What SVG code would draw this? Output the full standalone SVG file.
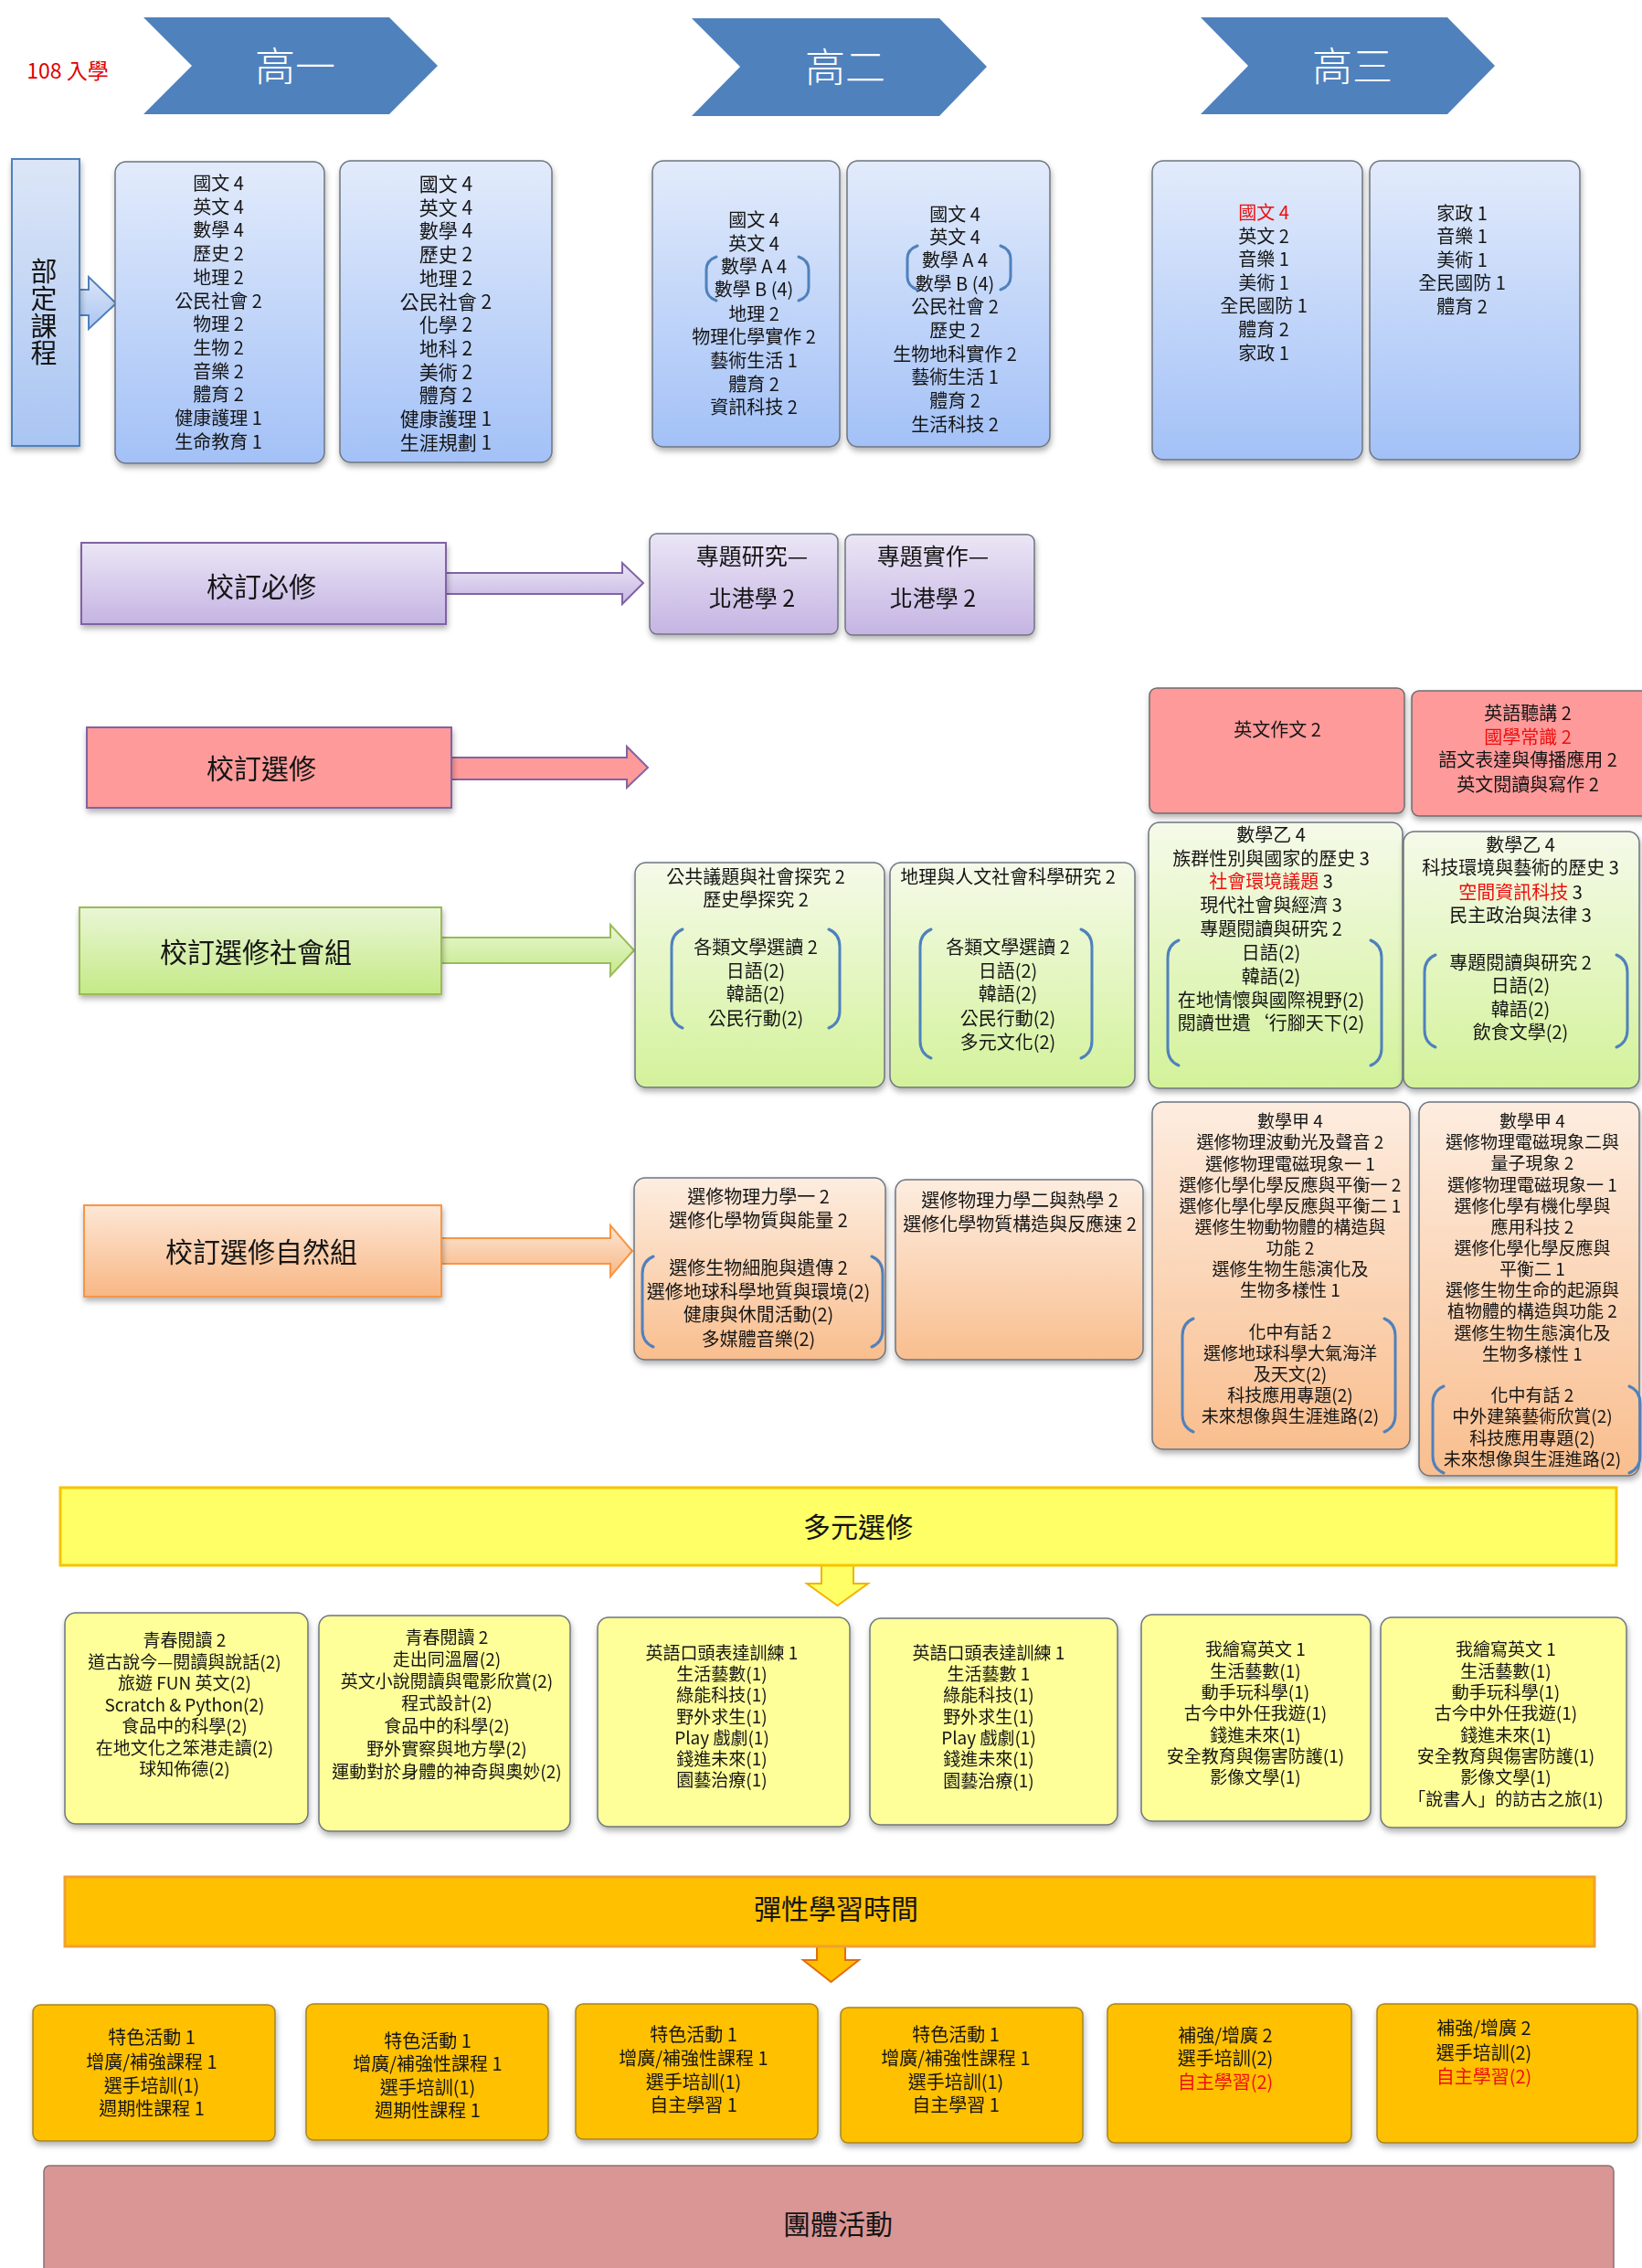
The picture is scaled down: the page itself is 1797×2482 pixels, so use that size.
<svg xmlns="http://www.w3.org/2000/svg" width="1797" height="2482" viewBox="0 0 1797 2482">
<defs>
<style>
.t{font-family:"Noto Sans CJK TC","Noto Sans CJK SC",sans-serif;font-size:20px;fill:#141414;text-anchor:middle;dominant-baseline:central;}
.t19{font-size:19px;}
.t21{font-size:21px;}
.lbl{font-size:30px;}
.sub{font-size:25px;}
.hd{font-size:44px;fill:#fff;font-weight:300;}
.red{fill:#EE1111;}
.box{stroke:#6E7680;stroke-width:1.5;}
.br{fill:none;stroke:#4F81BD;stroke-width:3;stroke-linecap:round;}
</style>
<linearGradient id="blueG" x1="0" y1="0" x2="0" y2="1"><stop offset="0" stop-color="#E2EBFB"/><stop offset="1" stop-color="#A3C1F7"/></linearGradient>
<linearGradient id="bdG" x1="0" y1="0" x2="0" y2="1"><stop offset="0" stop-color="#DCE6F7"/><stop offset="1" stop-color="#A9C5F3"/></linearGradient>
<linearGradient id="purpG" x1="0" y1="0" x2="0" y2="1"><stop offset="0" stop-color="#EBE6F6"/><stop offset="1" stop-color="#C5B4E3"/></linearGradient>
<linearGradient id="greenG" x1="0" y1="0" x2="0" y2="1"><stop offset="0" stop-color="#F5FAE9"/><stop offset="1" stop-color="#D3F29A"/></linearGradient>
<linearGradient id="lgG" x1="0" y1="0" x2="0" y2="1"><stop offset="0" stop-color="#EAF6D6"/><stop offset="1" stop-color="#C4EA86"/></linearGradient>
<linearGradient id="orG" x1="0" y1="0" x2="0" y2="1"><stop offset="0" stop-color="#FDEDE0"/><stop offset="1" stop-color="#F9BE8E"/></linearGradient>
<linearGradient id="loG" x1="0" y1="0" x2="0" y2="1"><stop offset="0" stop-color="#FDE7D6"/><stop offset="1" stop-color="#F8B784"/></linearGradient>
<filter id="sh" x="-10%" y="-10%" width="120%" height="130%"><feDropShadow dx="1" dy="4" stdDeviation="3" flood-color="#000" flood-opacity="0.3"/></filter>
</defs>
<rect width="1797" height="2482" fill="#fff"/>

<g id="header">
<text class="t" x="74" y="76" style="font-size:23px;fill:#E00000">108 入學</text>
<g id="g1"><polygon points="157,19 426,19 479,72 426,125 157,125 210,72" fill="#4F81BD"/><text class="t hd" x="323" y="70">高一</text></g>
<g id="g2"><polygon points="757,20 1028,20 1080,73 1028,127 757,127 810,73" fill="#4F81BD"/><text class="t hd" x="925" y="71">高二</text></g>
<g id="g3"><polygon points="1314,19 1584,19 1636,72 1584,125 1314,125 1366,72" fill="#4F81BD"/><text class="t hd" x="1480" y="70">高三</text></g>
</g>

<g id="connectors">
<polygon points="87,317 97,317 97,303 127,332 97,360 97,345 87,345" fill="url(#bdG)" stroke="#4F81BD" stroke-width="2"/>
<polygon points="488,627 681,627 681,616 704,638 681,661 681,650 488,650" fill="url(#purpG)" stroke="#8064A2" stroke-width="2"/>
<polygon points="494,829 686,829 686,817 709,840 686,862 686,853 494,853" fill="#FF9A9A" stroke="#8064A2" stroke-width="2"/>
<polygon points="483,1026 668,1026 668,1012 694,1040 668,1068 668,1054 483,1054" fill="url(#lgG)" stroke="#9BBB59" stroke-width="2"/>
<polygon points="483,1355 668,1355 668,1341 692,1369 668,1397 668,1383 483,1383" fill="url(#loG)" stroke="#F79646" stroke-width="2"/>
<polygon points="899,1713 934,1713 934,1733 950,1733 916.5,1757 883,1733 899,1733" fill="#FFFF66" stroke="#F0B400" stroke-width="2"/>
<polygon points="894,2130 925,2130 925,2145 940,2145 909.5,2169 879,2145 894,2145" fill="#FFC000" stroke="#E46C0A" stroke-width="2"/>
</g>

<g id="n_buding" filter="url(#sh)">
<rect x="13" y="174" width="74" height="314" fill="url(#bdG)" stroke="#4F81BD" stroke-width="2"/>
<text x="48" y="342" style="font-family:'Noto Sans CJK TC','Noto Sans CJK SC',sans-serif;font-size:29px;fill:#141414;writing-mode:vertical-rl;text-anchor:middle;letter-spacing:0.7px">部定課程</text>
</g>

<g id="n_b1" filter="url(#sh)">
<rect class="box" x="126" y="177" width="229" height="330" rx="12" fill="url(#blueG)"/>
<text class="t"><tspan x="239" y="199">國文 4</tspan><tspan x="239" y="224.7">英文 4</tspan><tspan x="239" y="250.4">數學 4</tspan><tspan x="239" y="276.1">歷史 2</tspan><tspan x="239" y="301.8">地理 2</tspan><tspan x="239" y="327.5">公民社會 2</tspan><tspan x="239" y="353.2">物理 2</tspan><tspan x="239" y="378.9">生物 2</tspan><tspan x="239" y="404.6">音樂 2</tspan><tspan x="239" y="430.3">體育 2</tspan><tspan x="239" y="456">健康護理 1</tspan><tspan x="239" y="481.7">生命教育 1</tspan></text>
</g>
<g id="n_b2" filter="url(#sh)">
<rect class="box" x="372" y="176" width="232" height="330" rx="12" fill="url(#blueG)"/>
<text class="t t21"><tspan x="488" y="200">國文 4</tspan><tspan x="488" y="225.7">英文 4</tspan><tspan x="488" y="251.4">數學 4</tspan><tspan x="488" y="277.1">歷史 2</tspan><tspan x="488" y="302.8">地理 2</tspan><tspan x="488" y="328.5">公民社會 2</tspan><tspan x="488" y="354.2">化學 2</tspan><tspan x="488" y="379.9">地科 2</tspan><tspan x="488" y="405.6">美術 2</tspan><tspan x="488" y="431.3">體育 2</tspan><tspan x="488" y="457">健康護理 1</tspan><tspan x="488" y="482.7">生涯規劃 1</tspan></text>
</g>
<g id="n_b3" filter="url(#sh)">
<rect class="box" x="714" y="176" width="205" height="313" rx="12" fill="url(#blueG)"/>
<text class="t"><tspan x="825" y="239">國文 4</tspan><tspan x="825" y="265">英文 4</tspan><tspan x="825" y="290">數學 A 4</tspan><tspan x="825" y="315">數學 B (4)</tspan><tspan x="825" y="342">地理 2</tspan><tspan x="825" y="367">物理化學實作 2</tspan><tspan x="825" y="393">藝術生活 1</tspan><tspan x="825" y="419">體育 2</tspan><tspan x="825" y="444">資訊科技 2</tspan></text>
<path class="br" d="M784,281 Q773,285 773,295 L773,315 Q773,325 784,329 M874,281 Q885,285 885,295 L885,315 Q885,325 874,329"/>
</g>
<g id="n_b4" filter="url(#sh)">
<rect class="box" x="927" y="176" width="222" height="313" rx="12" fill="url(#blueG)"/>
<text class="t"><tspan x="1045" y="233">國文 4</tspan><tspan x="1045" y="258">英文 4</tspan><tspan x="1045" y="283">數學 A 4</tspan><tspan x="1045" y="309">數學 B (4)</tspan><tspan x="1045" y="334">公民社會 2</tspan><tspan x="1045" y="360">歷史 2</tspan><tspan x="1045" y="386">生物地科實作 2</tspan><tspan x="1045" y="411">藝術生活 1</tspan><tspan x="1045" y="437">體育 2</tspan><tspan x="1045" y="463">生活科技 2</tspan></text>
<path class="br" d="M1004,269 Q993,273 993,283 L993,303 Q993,313 1004,317 M1095,269 Q1106,273 1106,283 L1106,303 Q1106,313 1095,317"/>
</g>
<g id="n_b5" filter="url(#sh)">
<rect class="box" x="1261" y="176" width="230" height="327" rx="12" fill="url(#blueG)"/>
<text class="t"><tspan x="1383" y="231" class="red">國文 4</tspan><tspan x="1383" y="257">英文 2</tspan><tspan x="1383" y="282">音樂 1</tspan><tspan x="1383" y="308">美術 1</tspan><tspan x="1383" y="333">全民國防 1</tspan><tspan x="1383" y="359">體育 2</tspan><tspan x="1383" y="385">家政 1</tspan></text>
</g>
<g id="n_b6" filter="url(#sh)">
<rect class="box" x="1499" y="176" width="230" height="327" rx="12" fill="url(#blueG)"/>
<text class="t"><tspan x="1600" y="232">家政 1</tspan><tspan x="1600" y="257">音樂 1</tspan><tspan x="1600" y="283">美術 1</tspan><tspan x="1600" y="308">全民國防 1</tspan><tspan x="1600" y="334">體育 2</tspan></text>
</g>

<g id="n_bixiu" filter="url(#sh)">
<rect x="89" y="594" width="399" height="89" fill="url(#purpG)" stroke="#8064A2" stroke-width="2"/>
<text class="t lbl" x="286" y="640">校訂必修</text>
</g>
<g id="n_zt1" filter="url(#sh)">
<rect x="711" y="584" width="206" height="110" rx="8" fill="url(#purpG)" stroke="#6E7680" stroke-width="1.5"/>
<text class="t sub"><tspan x="823" y="607">專題研究—</tspan><tspan x="823" y="653">北港學 2</tspan></text>
</g>
<g id="n_zt2" filter="url(#sh)">
<rect x="925" y="585" width="207" height="110" rx="8" fill="url(#purpG)" stroke="#6E7680" stroke-width="1.5"/>
<text class="t sub"><tspan x="1021" y="607">專題實作—</tspan><tspan x="1021" y="653">北港學 2</tspan></text>
</g>

<g id="n_xuanxiu" filter="url(#sh)">
<rect x="95" y="796" width="399" height="88" fill="#FF9A9A" stroke="#8064A2" stroke-width="2"/>
<text class="t lbl" x="286" y="839">校訂選修</text>
</g>
<g id="n_r1" filter="url(#sh)">
<rect x="1258" y="753" width="279" height="137" rx="8" fill="#FF9A9A" stroke="#6E6E6E" stroke-width="1.5"/>
<text class="t" x="1398" y="797">英文作文 2</text>
</g>
<g id="n_r2" filter="url(#sh)">
<rect x="1545" y="756" width="262" height="137" rx="8" fill="#FF9A9A" stroke="#6E6E6E" stroke-width="1.5"/>
<text class="t"><tspan x="1672" y="779">英語聽講 2</tspan><tspan x="1672" y="805" class="red">國學常識 2</tspan><tspan x="1672" y="830">語文表達與傳播應用 2</tspan><tspan x="1672" y="857">英文閱讀與寫作 2</tspan></text>
</g>

<g id="n_social" filter="url(#sh)">
<rect x="87" y="993" width="396" height="95" fill="url(#lgG)" stroke="#9BBB59" stroke-width="2"/>
<text class="t lbl" x="280" y="1040">校訂選修社會組</text>
</g>
<g id="n_sA" filter="url(#sh)">
<rect class="box" x="695" y="944" width="273" height="246" rx="12" fill="url(#greenG)"/>
<text class="t"><tspan x="827" y="958">公共議題與社會探究 2</tspan><tspan x="827" y="983">歷史學探究 2</tspan><tspan x="827" y="1035">各類文學選讀 2</tspan><tspan x="827" y="1061">日語(2)</tspan><tspan x="827" y="1086">韓語(2)</tspan><tspan x="827" y="1113">公民行動(2)</tspan></text>
<path class="br" d="M747,1017 Q735,1022 735,1036 L735,1106 Q735,1120 747,1125 M907,1017 Q919,1022 919,1036 L919,1106 Q919,1120 907,1125"/>
</g>
<g id="n_sB" filter="url(#sh)">
<rect class="box" x="974" y="944" width="268" height="246" rx="12" fill="url(#greenG)"/>
<text class="t"><tspan x="1103" y="958">地理與人文社會科學研究 2</tspan><tspan x="1103" y="1035">各類文學選讀 2</tspan><tspan x="1103" y="1061">日語(2)</tspan><tspan x="1103" y="1086">韓語(2)</tspan><tspan x="1103" y="1113">公民行動(2)</tspan><tspan x="1103" y="1139">多元文化(2)</tspan></text>
<path class="br" d="M1019,1017 Q1007,1022 1007,1036 L1007,1139 Q1007,1153 1019,1158 M1183,1017 Q1195,1022 1195,1036 L1195,1139 Q1195,1153 1183,1158"/>
</g>
<g id="n_sC" filter="url(#sh)">
<rect class="box" x="1257" y="900" width="278" height="291" rx="12" fill="url(#greenG)"/>
<text class="t"><tspan x="1391" y="912">數學乙 4</tspan><tspan x="1391" y="938">族群性別與國家的歷史 3</tspan><tspan x="1391" y="963"><tspan class="red">社會環境議題</tspan> 3</tspan><tspan x="1391" y="989">現代社會與經濟 3</tspan><tspan x="1391" y="1015">專題閱讀與研究 2</tspan><tspan x="1391" y="1041">日語(2)</tspan><tspan x="1391" y="1067">韓語(2)</tspan><tspan x="1391" y="1093">在地情懷與國際視野(2)</tspan><tspan x="1391" y="1118">閱讀世遺‘行腳天下(2)</tspan></text>
<path class="br" d="M1290,1029 Q1278,1034 1278,1048 L1278,1147 Q1278,1161 1290,1166 M1500,1029 Q1512,1034 1512,1048 L1512,1147 Q1512,1161 1500,1166"/>
</g>
<g id="n_sD" filter="url(#sh)">
<rect class="box" x="1536" y="910" width="258" height="281" rx="12" fill="url(#greenG)"/>
<text class="t"><tspan x="1664" y="923">數學乙 4</tspan><tspan x="1664" y="948">科技環境與藝術的歷史 3</tspan><tspan x="1664" y="975"><tspan class="red">空間資訊科技</tspan> 3</tspan><tspan x="1664" y="1000">民主政治與法律 3</tspan><tspan x="1664" y="1052">專題閱讀與研究 2</tspan><tspan x="1664" y="1077">日語(2)</tspan><tspan x="1664" y="1103">韓語(2)</tspan><tspan x="1664" y="1128">飲食文學(2)</tspan></text>
<path class="br" d="M1571,1045 Q1559,1050 1559,1064 L1559,1127 Q1559,1141 1571,1146 M1769,1045 Q1781,1050 1781,1064 L1781,1127 Q1781,1141 1769,1146"/>
</g>

<g id="n_nature" filter="url(#sh)">
<rect x="92" y="1319" width="391" height="100" fill="url(#loG)" stroke="#F79646" stroke-width="2"/>
<text class="t lbl" x="286" y="1368">校訂選修自然組</text>
</g>
<g id="n_nA" filter="url(#sh)">
<rect class="box" x="694" y="1289" width="275" height="199" rx="12" fill="url(#orG)"/>
<text class="t"><tspan x="830" y="1308">選修物理力學一 2</tspan><tspan x="830" y="1334">選修化學物質與能量 2</tspan><tspan x="830" y="1386">選修生物細胞與遺傳 2</tspan><tspan x="830" y="1412">選修地球科學地質與環境(2)</tspan><tspan x="830" y="1437">健康與休閒活動(2)</tspan><tspan x="830" y="1464">多媒體音樂(2)</tspan></text>
<path class="br" d="M715,1375 Q703,1380 703,1394 L703,1455 Q703,1469 715,1474 M954,1375 Q966,1380 966,1394 L966,1455 Q966,1469 954,1474"/>
</g>
<g id="n_nB" filter="url(#sh)">
<rect class="box" x="980" y="1291" width="271" height="197" rx="12" fill="url(#orG)"/>
<text class="t"><tspan x="1116" y="1312">選修物理力學二與熱學 2</tspan><tspan x="1116" y="1338">選修化學物質構造與反應速 2</tspan></text>
</g>
<g id="n_nC" filter="url(#sh)">
<rect class="box" x="1261" y="1206" width="282" height="380" rx="12" fill="url(#orG)"/>
<text class="t t19"><tspan x="1412" y="1225">數學甲 4</tspan><tspan x="1412" y="1248">選修物理波動光及聲音 2</tspan><tspan x="1412" y="1272">選修物理電磁現象一 1</tspan><tspan x="1412" y="1295">選修化學化學反應與平衡一 2</tspan><tspan x="1412" y="1318">選修化學化學反應與平衡二 1</tspan><tspan x="1412" y="1341">選修生物動物體的構造與</tspan><tspan x="1412" y="1364">功能 2</tspan><tspan x="1412" y="1387">選修生物生態演化及</tspan><tspan x="1412" y="1410">生物多樣性 1</tspan><tspan x="1412" y="1456">化中有話 2</tspan><tspan x="1412" y="1479">選修地球科學大氣海洋</tspan><tspan x="1412" y="1502">及天文(2)</tspan><tspan x="1412" y="1525">科技應用專題(2)</tspan><tspan x="1412" y="1548">未來想像與生涯進路(2)</tspan></text>
<path class="br" d="M1306,1443 Q1294,1448 1294,1462 L1294,1548 Q1294,1562 1306,1567 M1515,1443 Q1527,1448 1527,1462 L1527,1548 Q1527,1562 1515,1567"/>
</g>
<g id="n_nD" filter="url(#sh)">
<rect class="box" x="1553" y="1206" width="241" height="409" rx="12" fill="url(#orG)"/>
<text class="t t19"><tspan x="1677" y="1225">數學甲 4</tspan><tspan x="1677" y="1248">選修物理電磁現象二與</tspan><tspan x="1677" y="1271">量子現象 2</tspan><tspan x="1677" y="1295">選修物理電磁現象一 1</tspan><tspan x="1677" y="1318">選修化學有機化學與</tspan><tspan x="1677" y="1341">應用科技 2</tspan><tspan x="1677" y="1364">選修化學化學反應與</tspan><tspan x="1677" y="1387">平衡二 1</tspan><tspan x="1677" y="1410">選修生物生命的起源與</tspan><tspan x="1677" y="1433">植物體的構造與功能 2</tspan><tspan x="1677" y="1457">選修生物生態演化及</tspan><tspan x="1677" y="1480">生物多樣性 1</tspan><tspan x="1677" y="1525">化中有話 2</tspan><tspan x="1677" y="1548">中外建築藝術欣賞(2)</tspan><tspan x="1677" y="1572">科技應用專題(2)</tspan><tspan x="1677" y="1595">未來想像與生涯進路(2)</tspan></text>
<path class="br" d="M1580,1517 Q1568,1522 1568,1536 L1568,1593 Q1568,1607 1580,1612 M1783,1517 Q1795,1522 1795,1536 L1795,1593 Q1795,1607 1783,1612"/>
</g>

<g id="n_duoyuan">
<rect x="66" y="1628" width="1703" height="85" fill="#FFFF66" stroke="#F5C400" stroke-width="3"/>
<text class="t lbl" x="939" y="1669">多元選修</text>
</g>
<g id="n_y1" filter="url(#sh)">
<rect class="box" x="71" y="1765" width="266" height="231" rx="12" fill="#FFFF99"/>
<text class="t t19"><tspan x="202" y="1793">青春閱讀 2</tspan><tspan x="202" y="1817">道古說今—閱讀與說話(2)</tspan><tspan x="202" y="1840">旅遊 FUN 英文(2)</tspan><tspan x="202" y="1864">Scratch &amp; Python(2)</tspan><tspan x="202" y="1887">食品中的科學(2)</tspan><tspan x="202" y="1911">在地文化之笨港走讀(2)</tspan><tspan x="202" y="1934">球知佈德(2)</tspan></text>
</g>
<g id="n_y2" filter="url(#sh)">
<rect class="box" x="349" y="1768" width="275" height="236" rx="12" fill="#FFFF99"/>
<text class="t t19"><tspan x="489" y="1790">青春閱讀 2</tspan><tspan x="489" y="1814">走出同溫層(2)</tspan><tspan x="489" y="1838">英文小說閱讀與電影欣賞(2)</tspan><tspan x="489" y="1862">程式設計(2)</tspan><tspan x="489" y="1887">食品中的科學(2)</tspan><tspan x="489" y="1912">野外實察與地方學(2)</tspan><tspan x="489" y="1937">運動對於身體的神奇與奧妙(2)</tspan></text>
</g>
<g id="n_y3" filter="url(#sh)">
<rect class="box" x="654" y="1770" width="276" height="229" rx="12" fill="#FFFF99"/>
<text class="t t19"><tspan x="790" y="1807">英語口頭表達訓練 1</tspan><tspan x="790" y="1830">生活藝數(1)</tspan><tspan x="790" y="1853">綠能科技(1)</tspan><tspan x="790" y="1877">野外求生(1)</tspan><tspan x="790" y="1900">Play 戲劇(1)</tspan><tspan x="790" y="1923">錢進未來(1)</tspan><tspan x="790" y="1946">園藝治療(1)</tspan></text>
</g>
<g id="n_y4" filter="url(#sh)">
<rect class="box" x="952" y="1771" width="271" height="226" rx="12" fill="#FFFF99"/>
<text class="t t19"><tspan x="1082" y="1807">英語口頭表達訓練 1</tspan><tspan x="1082" y="1830">生活藝數 1</tspan><tspan x="1082" y="1853">綠能科技(1)</tspan><tspan x="1082" y="1877">野外求生(1)</tspan><tspan x="1082" y="1900">Play 戲劇(1)</tspan><tspan x="1082" y="1923">錢進未來(1)</tspan><tspan x="1082" y="1947">園藝治療(1)</tspan></text>
</g>
<g id="n_y5" filter="url(#sh)">
<rect class="box" x="1249" y="1767" width="251" height="226" rx="12" fill="#FFFF99"/>
<text class="t t19"><tspan x="1374" y="1803">我繪寫英文 1</tspan><tspan x="1374" y="1827">生活藝數(1)</tspan><tspan x="1374" y="1850">動手玩科學(1)</tspan><tspan x="1374" y="1873">古今中外任我遊(1)</tspan><tspan x="1374" y="1897">錢進未來(1)</tspan><tspan x="1374" y="1920">安全教育與傷害防護(1)</tspan><tspan x="1374" y="1943">影像文學(1)</tspan></text>
</g>
<g id="n_y6" filter="url(#sh)">
<rect class="box" x="1511" y="1770" width="269" height="230" rx="12" fill="#FFFF99"/>
<text class="t t19"><tspan x="1648" y="1803">我繪寫英文 1</tspan><tspan x="1648" y="1827">生活藝數(1)</tspan><tspan x="1648" y="1850">動手玩科學(1)</tspan><tspan x="1648" y="1873">古今中外任我遊(1)</tspan><tspan x="1648" y="1897">錢進未來(1)</tspan><tspan x="1648" y="1920">安全教育與傷害防護(1)</tspan><tspan x="1648" y="1943">影像文學(1)</tspan><tspan x="1648" y="1967">「說書人」的訪古之旅(1)</tspan></text>
</g>

<g id="n_tanxing">
<rect x="71" y="2054" width="1674" height="76" fill="#FFC000" stroke="#F0A030" stroke-width="3"/>
<text class="t lbl" x="915" y="2087">彈性學習時間</text>
</g>
<g id="n_o1" filter="url(#sh)">
<rect x="36" y="2194" width="265" height="149" rx="8" fill="#FFC000" stroke="#A88420" stroke-width="1.5"/>
<text class="t"><tspan x="166" y="2228">特色活動 1</tspan><tspan x="166" y="2255">增廣/補強課程 1</tspan><tspan x="166" y="2281">選手培訓(1)</tspan><tspan x="166" y="2306">週期性課程 1</tspan></text>
</g>
<g id="n_o2" filter="url(#sh)">
<rect x="335" y="2193" width="265" height="149" rx="8" fill="#FFC000" stroke="#A88420" stroke-width="1.5"/>
<text class="t"><tspan x="468" y="2232">特色活動 1</tspan><tspan x="468" y="2257">增廣/補強性課程 1</tspan><tspan x="468" y="2283">選手培訓(1)</tspan><tspan x="468" y="2308">週期性課程 1</tspan></text>
</g>
<g id="n_o3" filter="url(#sh)">
<rect x="630" y="2193" width="265" height="148" rx="8" fill="#FFC000" stroke="#A88420" stroke-width="1.5"/>
<text class="t"><tspan x="759" y="2225">特色活動 1</tspan><tspan x="759" y="2251">增廣/補強性課程 1</tspan><tspan x="759" y="2277">選手培訓(1)</tspan><tspan x="759" y="2302">自主學習 1</tspan></text>
</g>
<g id="n_o4" filter="url(#sh)">
<rect x="920" y="2197" width="265" height="148" rx="8" fill="#FFC000" stroke="#A88420" stroke-width="1.5"/>
<text class="t"><tspan x="1046" y="2225">特色活動 1</tspan><tspan x="1046" y="2251">增廣/補強性課程 1</tspan><tspan x="1046" y="2277">選手培訓(1)</tspan><tspan x="1046" y="2302">自主學習 1</tspan></text>
</g>
<g id="n_o5" filter="url(#sh)">
<rect x="1212" y="2193" width="267" height="152" rx="8" fill="#FFC000" stroke="#A88420" stroke-width="1.5"/>
<text class="t"><tspan x="1341" y="2226">補強/增廣 2</tspan><tspan x="1341" y="2251">選手培訓(2)</tspan><tspan x="1341" y="2277" class="red">自主學習(2)</tspan></text>
</g>
<g id="n_o6" filter="url(#sh)">
<rect x="1507" y="2193" width="285" height="152" rx="8" fill="#FFC000" stroke="#A88420" stroke-width="1.5"/>
<text class="t"><tspan x="1624" y="2218">補強/增廣 2</tspan><tspan x="1624" y="2245">選手培訓(2)</tspan><tspan x="1624" y="2271" class="red">自主學習(2)</tspan></text>
</g>

<g id="n_tuanti">
<rect x="48" y="2370" width="1718" height="130" rx="6" fill="#D99694" stroke="#8B7070" stroke-width="1.5"/>
<text class="t lbl" x="917" y="2432">團體活動</text>
</g>
</svg>
